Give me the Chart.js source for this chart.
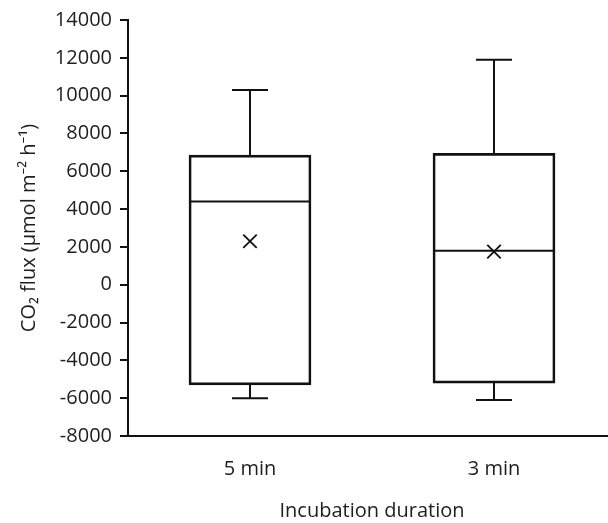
<!DOCTYPE html>
<html>
<head>
<meta charset="utf-8">
<script src="https://cdn.jsdelivr.net/npm/chart.js@4.4.1/dist/chart.umd.min.js"></script>
<style>
  html, body { margin: 0; padding: 0; background: #ffffff; overflow: hidden; }
  #wrap { position: relative; width: 608px; height: 523px; overflow: hidden; }
  #c { display: block; }
</style>
</head>
<body>
<div id="wrap"><canvas id="c" width="616" height="523"></canvas></div>
<script>
// ---- data ----
const categories = ['5 min', '3 min'];
const whiskerMax = [10300, 11900];
const q3Values   = [6850, 6950];
const medians    = [4400, 1800];
const means      = [2300, 1750];
const q1Values   = [-5300, -5200];
const whiskerMin = [-6000, -6100];
const yTicks     = [-8000, -6000, -4000, -2000, 0, 2000, 4000, 6000, 8000, 10000, 12000, 14000];
const yTitle = 'CO\u2082 flux (\u00B5mol m\u207B\u00B2 h\u207B\u00B9)';
const xTitle = 'Incubation duration';

const ink = '#111111';
const textInk = '#1e1e1e';
const fontFamily = '"Open Sans", "Noto Sans", "DejaVu Sans", sans-serif';
const lw = 2;

// whisker segments, broken by nulls
const whiskerPts = [];
categories.forEach((c, i) => {
  whiskerPts.push({x: c, y: whiskerMax[i]}, {x: c, y: q3Values[i]}, {x: c, y: null});
  whiskerPts.push({x: c, y: q1Values[i]}, {x: c, y: whiskerMin[i]}, {x: c, y: null});
});

const capPts = [];
categories.forEach((c, i) => {
  capPts.push({x: c, y: whiskerMax[i]}, {x: c, y: whiskerMin[i]});
});

new Chart(document.getElementById('c'), {
  type: 'bar',
  data: {
    labels: categories,
    datasets: [
      {
        type: 'bar',
        label: 'box',
        data: categories.map((c, i) => [q1Values[i], q3Values[i]]),
        backgroundColor: 'rgba(255,255,255,0)',
        borderColor: ink,
        borderWidth: lw,
        borderSkipped: false,
        barThickness: 122,
        order: 3
      },
      {
        type: 'line',
        label: 'whiskers',
        data: whiskerPts,
        borderColor: ink,
        borderWidth: lw,
        pointRadius: 0,
        spanGaps: false,
        fill: false,
        order: 2
      },
      {
        type: 'scatter',
        label: 'caps',
        data: capPts,
        pointStyle: 'line',
        pointRadius: 18,
        borderColor: ink,
        borderWidth: lw,
        order: 1
      },
      {
        type: 'scatter',
        label: 'median',
        data: categories.map((c, i) => ({x: c, y: medians[i]})),
        pointStyle: 'line',
        pointRadius: 60,
        borderColor: ink,
        borderWidth: lw,
        order: 1
      },
      {
        type: 'scatter',
        label: 'mean',
        data: categories.map((c, i) => ({x: c, y: means[i]})),
        pointStyle: 'crossRot',
        pointRadius: 9.5,
        borderColor: ink,
        borderWidth: 1.8,
        order: 0
      }
    ]
  },
  options: {
    responsive: false,
    animation: false,
    events: [],
    layout: { autoPadding: false, padding: { top: 19, right: 0, bottom: 0, left: 0 } },
    plugins: { legend: { display: false }, tooltip: { enabled: false } },
    scales: {
      x: {
        type: 'category',
        offset: true,
        grid: { display: false, drawTicks: false },
        border: { display: true, color: ink, width: lw },
        ticks: { color: textInk, font: { family: fontFamily, size: 20 }, padding: 21, maxRotation: 0 },
        title: { display: true, text: xTitle, color: textInk, font: { family: fontFamily, size: 20 }, padding: { top: 0, bottom: 0 } },
        afterFit: (s) => { s.height = 87; }
      },
      y: {
        type: 'linear',
        min: -8000,
        max: 14000,
        afterBuildTicks: (s) => { s.ticks = yTicks.map(v => ({value: v})); },
        grid: { drawOnChartArea: false, drawTicks: true, tickLength: 8, color: ink, lineWidth: lw },
        border: { display: true, color: ink, width: lw },
        ticks: { color: textInk, font: { family: fontFamily, size: 20 }, padding: 8, callback: (v) => String(v) },
        title: { display: true, text: yTitle, color: textInk, font: { family: fontFamily, size: 20 }, padding: { top: 17, bottom: 0 } },
        afterFit: (s) => { s.width = 128; }
      }
    }
  }
});
</script>
</body>
</html>
